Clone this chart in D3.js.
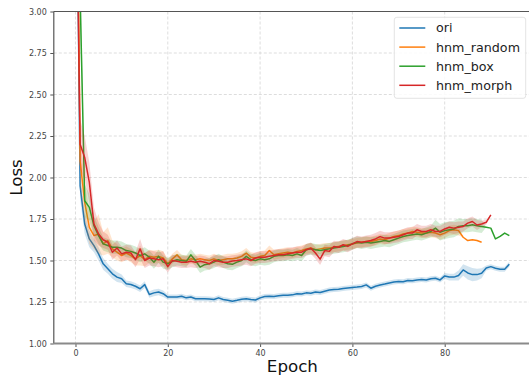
<!DOCTYPE html>
<html>
<head>
<meta charset="utf-8">
<script src="https://cdn.jsdelivr.net/npm/d3@7"></script>
<style>
  body { margin: 0; background: #fff; }
  svg { display: block; font-family: "DejaVu Sans", sans-serif; }
</style>
</head>
<body>
<div id="chart"></div>
<script>
// loss per epoch (mean over runs) and spread
const seriesNames = ["ori", "hnm_random", "hnm_box", "hnm_morph"];
const colors = ["#1f77b4", "#ff7f0e", "#2ca02c", "#d62728"];

const oriLoss = [4.58, 1.95, 1.72, 1.63, 1.59, 1.54, 1.48, 1.45, 1.42, 1.40,
  1.39, 1.36, 1.355, 1.345, 1.33, 1.355, 1.295, 1.305, 1.31, 1.30,
  1.28, 1.28, 1.28, 1.285, 1.275, 1.28, 1.27, 1.27, 1.27, 1.268,
  1.265, 1.275, 1.265, 1.26, 1.255, 1.26, 1.267, 1.27, 1.265, 1.262,
  1.275, 1.283, 1.285, 1.283, 1.287, 1.29, 1.29, 1.293, 1.30, 1.298,
  1.305, 1.303, 1.31, 1.307, 1.315, 1.322, 1.325, 1.327, 1.332, 1.335,
  1.338, 1.34, 1.343, 1.353, 1.333, 1.345, 1.352, 1.358, 1.365, 1.37,
  1.373, 1.372, 1.38, 1.378, 1.383, 1.385, 1.382, 1.39, 1.393, 1.383,
  1.407, 1.40, 1.40, 1.41, 1.443, 1.425, 1.415, 1.415, 1.423, 1.455,
  1.463, 1.453, 1.447, 1.447, 1.477];
const oriStd = [0.3, 0.08, 0.06, 0.05, 0.04, 0.04, 0.035, 0.03, 0.03, 0.03,
  0.025, 0.02, 0.02, 0.02, 0.02, 0.02, 0.02, 0.02, 0.02, 0.02,
  0.015, 0.015, 0.015, 0.015, 0.015, 0.015, 0.015, 0.015, 0.015, 0.015,
  0.015, 0.015, 0.015, 0.015, 0.015, 0.015, 0.015, 0.015, 0.015, 0.015,
  0.015, 0.015, 0.015, 0.015, 0.015, 0.015, 0.015, 0.015, 0.015, 0.015,
  0.015, 0.015, 0.015, 0.015, 0.015, 0.015, 0.015, 0.015, 0.015, 0.015,
  0.015, 0.015, 0.015, 0.015, 0.015, 0.015, 0.015, 0.015, 0.015, 0.015,
  0.015, 0.015, 0.015, 0.015, 0.015, 0.015, 0.015, 0.015, 0.015, 0.015,
  0.018, 0.02, 0.02, 0.03, 0.035, 0.04, 0.04, 0.035, 0.03, 0.015,
  0.015, 0.015, 0.015, 0.015, 0.015];

const randomLoss = [5.0, 2.1, 1.85, 1.70, 1.65, 1.66, 1.60, 1.62, 1.57, 1.55,
  1.53, 1.545, 1.53, 1.51, 1.53, 1.505, 1.525, 1.52, 1.525, 1.515,
  1.48, 1.51, 1.534, 1.505, 1.50, 1.51, 1.505, 1.51, 1.505, 1.50,
  1.51, 1.50, 1.505, 1.51, 1.51, 1.515, 1.525, 1.545, 1.52, 1.515,
  1.525, 1.53, 1.56, 1.535, 1.54, 1.545, 1.55, 1.545, 1.555, 1.56,
  1.57, 1.575, 1.565, 1.57, 1.575, 1.575, 1.58, 1.585, 1.59, 1.595,
  1.60, 1.605, 1.61, 1.615, 1.615, 1.62, 1.63, 1.625, 1.635, 1.645,
  1.65, 1.66, 1.665, 1.675, 1.67, 1.665, 1.665, 1.67, 1.665, 1.655,
  1.665, 1.68, 1.685, 1.68, 1.64, 1.62, 1.625, 1.62, 1.61];
const randomStd = [0.3, 0.15, 0.12, 0.1, 0.08, 0.12, 0.07, 0.08, 0.05, 0.05,
  0.04, 0.04, 0.04, 0.04, 0.06, 0.04, 0.04, 0.04, 0.04, 0.04,
  0.03, 0.03, 0.03, 0.03, 0.03, 0.03, 0.03, 0.03, 0.03, 0.03,
  0.03, 0.03, 0.03, 0.03, 0.03, 0.03, 0.03, 0.03, 0.03, 0.03,
  0.03, 0.03, 0.03, 0.03, 0.03, 0.03, 0.03, 0.03, 0.03, 0.03,
  0.03, 0.03, 0.03, 0.03, 0.03, 0.03, 0.03, 0.03, 0.03, 0.03,
  0.03, 0.03, 0.03, 0.03, 0.03, 0.03, 0.03, 0.03, 0.03, 0.03,
  0.03, 0.03, 0.03, 0.03, 0.03, 0.03, 0.03, 0.03, 0.03, 0.03,
  0.03, 0.03, 0.03, 0.03, 0, 0, 0, 0, 0];

const boxLoss = [6.0, 3.1, 1.86, 1.82, 1.71, 1.65, 1.60, 1.59, 1.58, 1.58,
  1.575, 1.56, 1.555, 1.545, 1.53, 1.54, 1.52, 1.49, 1.525, 1.49,
  1.48, 1.495, 1.505, 1.50, 1.495, 1.534, 1.50, 1.46, 1.475, 1.48,
  1.49, 1.505, 1.49, 1.48, 1.477, 1.49, 1.50, 1.525, 1.505, 1.50,
  1.51, 1.505, 1.51, 1.525, 1.53, 1.53, 1.535, 1.53, 1.54, 1.53,
  1.565, 1.57, 1.565, 1.56, 1.565, 1.57, 1.575, 1.58, 1.585, 1.59,
  1.60, 1.61, 1.605, 1.61, 1.605, 1.61, 1.615, 1.62, 1.615, 1.625,
  1.635, 1.645, 1.65, 1.655, 1.66, 1.655, 1.665, 1.675, 1.695, 1.67,
  1.68, 1.685, 1.69, 1.705, 1.71, 1.71, 1.715, 1.71, 1.705, 1.70,
  1.695, 1.63, 1.645, 1.665, 1.65];
const boxStd = [0.3, 0.2, 0.1, 0.08, 0.06, 0.05, 0.04, 0.04, 0.04, 0.04,
  0.04, 0.04, 0.04, 0.04, 0.04, 0.04, 0.04, 0.04, 0.04, 0.04,
  0.035, 0.035, 0.035, 0.035, 0.035, 0.035, 0.035, 0.035, 0.035, 0.035,
  0.035, 0.035, 0.035, 0.035, 0.035, 0.035, 0.035, 0.035, 0.035, 0.035,
  0.035, 0.035, 0.035, 0.035, 0.035, 0.035, 0.035, 0.035, 0.035, 0.035,
  0.035, 0.035, 0.035, 0.035, 0.035, 0.035, 0.035, 0.035, 0.035, 0.035,
  0.035, 0.035, 0.035, 0.035, 0.035, 0.035, 0.035, 0.035, 0.035, 0.035,
  0.035, 0.035, 0.035, 0.035, 0.035, 0.035, 0.035, 0.035, 0.05, 0.05,
  0.05, 0.05, 0.05, 0.05, 0.04, 0.04, 0.04, 0.04, 0.04, 0,
  0, 0, 0, 0, 0];

const morphLoss = [4.2, 2.2, 2.12, 1.97, 1.72, 1.66, 1.625, 1.61, 1.55, 1.575,
  1.54, 1.55, 1.545, 1.505, 1.57, 1.50, 1.515, 1.51, 1.505, 1.51,
  1.463, 1.50, 1.495, 1.49, 1.49, 1.495, 1.49, 1.495, 1.49, 1.48,
  1.50, 1.495, 1.49, 1.49, 1.497, 1.50, 1.505, 1.51, 1.50, 1.515,
  1.52, 1.52, 1.525, 1.53, 1.534, 1.535, 1.54, 1.545, 1.55, 1.55,
  1.565, 1.574, 1.545, 1.508, 1.56, 1.555, 1.584, 1.58, 1.595, 1.585,
  1.60, 1.614, 1.61, 1.615, 1.62, 1.63, 1.644, 1.635, 1.635, 1.64,
  1.645, 1.655, 1.665, 1.665, 1.685, 1.675, 1.675, 1.685, 1.675, 1.675,
  1.69, 1.70, 1.695, 1.70, 1.705, 1.725, 1.735, 1.714, 1.72, 1.73,
  1.775];
const morphStd = [0.3, 0.15, 0.13, 0.12, 0.1, 0.07, 0.05, 0.045, 0.045, 0.045,
  0.045, 0.045, 0.045, 0.045, 0.06, 0.045, 0.045, 0.045, 0.045, 0.045,
  0.035, 0.035, 0.035, 0.035, 0.035, 0.035, 0.035, 0.035, 0.035, 0.035,
  0.035, 0.035, 0.035, 0.035, 0.035, 0.035, 0.035, 0.035, 0.035, 0.035,
  0.035, 0.035, 0.035, 0.035, 0.035, 0.035, 0.035, 0.035, 0.035, 0.035,
  0.035, 0.035, 0.035, 0.035, 0.035, 0.035, 0.035, 0.035, 0.035, 0.035,
  0.035, 0.035, 0.035, 0.035, 0.035, 0.035, 0.035, 0.035, 0.035, 0.035,
  0.035, 0.035, 0.035, 0.035, 0.035, 0.035, 0.035, 0.035, 0.035, 0.035,
  0.035, 0.035, 0.035, 0.035, 0.03, 0.03, 0.03, 0.03, 0.02, 0.015,
  0];

const xTicks = [0, 20, 40, 60, 80];
const yTicks = [1.00, 1.25, 1.50, 1.75, 2.00, 2.25, 2.50, 2.75, 3.00];

const width = 529;
const height = 381;
const m = {left: 53.8, right: 531, top: 11.5, bottom: 343.5};

const x = d3.scaleLinear().domain([-4.7, 98.7]).range([m.left, m.right]);
const y = d3.scaleLinear().domain([1, 3]).range([m.bottom, m.top]);

const svg = d3.select("#chart").append("svg")
  .attr("width", width)
  .attr("height", height);

svg.append("defs").append("clipPath").attr("id", "plot-clip")
  .append("rect")
  .attr("x", m.left).attr("y", m.top)
  .attr("width", m.right - m.left).attr("height", m.bottom - m.top);

// grid
const grid = svg.append("g")
  .attr("stroke", "#d4d4d4")
  .attr("stroke-width", 0.8)
  .attr("stroke-dasharray", "3,2");
grid.selectAll(".gx").data(xTicks).join("line")
  .attr("x1", d => x(d)).attr("x2", d => x(d))
  .attr("y1", m.top).attr("y2", m.bottom);
grid.selectAll(".gy").data(yTicks).join("line")
  .attr("x1", m.left).attr("x2", m.right)
  .attr("y1", d => y(d)).attr("y2", d => y(d));

const allSeries = [
  {mean: oriLoss, std: oriStd},
  {mean: randomLoss, std: randomStd},
  {mean: boxLoss, std: boxStd},
  {mean: morphLoss, std: morphStd}
];

const plot = svg.append("g").attr("clip-path", "url(#plot-clip)");

allSeries.forEach((s, i) => {
  const pts = s.mean.map((v, e) => ({e, v, sd: s.std[e]}));
  const area = d3.area()
    .x(d => x(d.e))
    .y0(d => y(d.v - d.sd))
    .y1(d => y(d.v + d.sd));
  const line = d3.line()
    .x(d => x(d.e))
    .y(d => y(d.v));
  plot.append("path")
    .attr("d", area(pts))
    .attr("fill", colors[i])
    .attr("fill-opacity", 0.2);
  plot.append("path")
    .attr("d", line(pts))
    .attr("fill", "none")
    .attr("stroke", colors[i])
    .attr("stroke-width", 1.5)
    .attr("stroke-linejoin", "round");
});

// axes
const xAxis = svg.append("g")
  .attr("transform", `translate(0,${m.bottom})`)
  .call(d3.axisBottom(x).tickValues(xTicks).tickSize(3.5).tickPadding(3).tickFormat(d3.format("d")));
const yAxis = svg.append("g")
  .attr("transform", `translate(${m.left},0)`)
  .call(d3.axisLeft(y).tickValues(yTicks).tickSize(3.5).tickPadding(3.5).tickFormat(d3.format(".2f")));

[xAxis, yAxis].forEach(a => {
  a.select(".domain").remove();
  a.selectAll(".tick line").attr("stroke", "#555").attr("stroke-width", 1);
  a.selectAll(".tick text")
    .attr("fill", "#444")
    .attr("font-size", "8px")
    .attr("font-family", "DejaVu Sans, sans-serif");
});

// spines
svg.append("line")
  .attr("x1", m.left).attr("x2", m.right).attr("y1", m.top).attr("y2", m.top)
  .attr("stroke", "#555").attr("stroke-width", 1.2);
svg.append("line")
  .attr("x1", m.left).attr("x2", m.left).attr("y1", m.top).attr("y2", m.bottom)
  .attr("stroke", "#555").attr("stroke-width", 1.2);
svg.append("line")
  .attr("x1", m.left).attr("x2", m.right).attr("y1", m.bottom).attr("y2", m.bottom)
  .attr("stroke", "#8a8a8a").attr("stroke-width", 2);

// axis labels
svg.append("text")
  .attr("x", x(47))
  .attr("y", 372)
  .attr("text-anchor", "middle")
  .attr("font-size", "16.7px")
  .attr("fill", "#111")
  .text("Epoch");

svg.append("text")
  .attr("transform", `translate(22,${(m.top + m.bottom) / 2}) rotate(-90)`)
  .attr("text-anchor", "middle")
  .attr("font-size", "16.7px")
  .attr("fill", "#111")
  .text("Loss");

// legend
const legend = svg.append("g");
legend.append("rect")
  .attr("x", 394.3).attr("y", 17.3)
  .attr("width", 131.4).attr("height", 81)
  .attr("rx", 2.5)
  .attr("fill", "#fff").attr("fill-opacity", 0.85)
  .attr("stroke", "#dcdcdc").attr("stroke-width", 0.8);

const legendRows = legend.selectAll(".row").data(seriesNames).join("g")
  .attr("transform", (d, i) => `translate(0,${28 + i * 19.1})`);
legendRows.append("line")
  .attr("x1", 399.3).attr("x2", 425.3)
  .attr("stroke", (d, i) => colors[i])
  .attr("stroke-width", 1.5);
legendRows.append("text")
  .attr("x", 436)
  .attr("dy", "0.35em")
  .attr("font-size", "12.7px")
  .attr("fill", "#222")
  .text(d => d);
</script>
</body>
</html>
